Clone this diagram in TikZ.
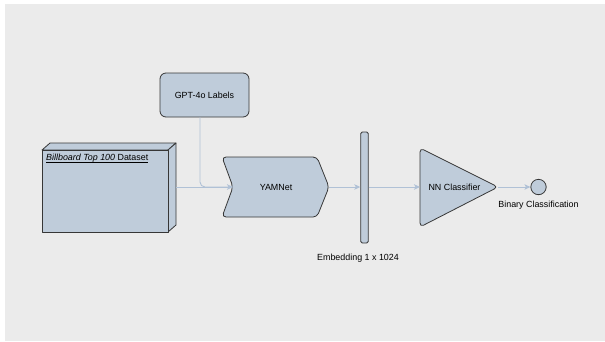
\documentclass[tikz,border=0pt]{standalone}
\usepackage{fontspec}
\setmainfont{Liberation Sans}
\usetikzlibrary{arrows.meta}
\definecolor{bgc}{HTML}{EBEBEB}
\definecolor{shfill}{HTML}{BFCCDA}
\definecolor{shdraw}{HTML}{363636}
\definecolor{connc}{HTML}{B0C1D6}
\begin{document}
\begin{tikzpicture}[x=1pt,y=-1pt,
  every node/.style={font=\fontsize{8.9}{10.5}\selectfont, text=black},
  shp/.style={draw=shdraw, fill=shfill, line width=0.8pt, line join=round},
  conn/.style={draw=connc, line width=0.9pt},
  tip/.style={-{Stealth[length=6pt,width=5.5pt,inset=1.5pt]}}]
\path[use as bounding box] (0,0) rectangle (605,341);
\fill[bgc] (5,4) rectangle (605,341);
% dataset cube
\path[shp] (42,150) -- (50,143) -- (176,143) -- (168,150) -- cycle;
\path[shp] (168,150) -- (176,143) -- (176,225) -- (168,232) -- cycle;
\node[shp, anchor=north west, minimum width=126pt, minimum height=82pt, inner sep=0pt] (data) at (42,150) {};
\node[anchor=base west, inner sep=0pt] (datatitle) at (46,160.5) {\textit{Billboard Top 100} Dataset};
\draw[black, line width=0.5pt] ([yshift=-1.3pt]datatitle.base west) -- ([yshift=-1.3pt]datatitle.base east);
\coordinate (dataR) at (176,187);
% GPT box
\node[shp, rounded corners=6pt, minimum width=89pt, minimum height=44pt] (gpt) at (204.5,95) {GPT-4o Labels};
% YAMNet
\path[shp, rounded corners=4pt] (222,157) -- (317,157) -- (329,187) -- (317,217) -- (222,217) -- (233,187) -- cycle;
\node (yam) at (276,187) {YAMNet};
\coordinate (yamin) at (233,187);
\coordinate (yamout) at (329,187);
% embedding
\node[shp, rounded corners=1.5pt, minimum width=7.6pt, minimum height=111pt, inner sep=0pt] (emb) at (364.5,187.5) {};
\node (emblabel) at (358,258) {Embedding 1 x 1024};
% classifier
\path[shp, rounded corners=4pt] (420,148) -- (498,187) -- (420,227) -- cycle;
\node (nn) at (454.5,187) {NN Classifier};
\coordinate (nnin) at (420,187);
\coordinate (nnout) at (498,187);
% output
\node[shp, circle, minimum size=15.4pt, inner sep=0pt] (out) at (538.5,187) {};
\node (outlabel) at (538.5,205.5) {Binary Classification};
% connectors
\draw[conn, rounded corners=5pt] ([xshift=-4.5pt]gpt.south) |- (yamin);
\draw[conn, tip] (dataR) -- (yamin);
\draw[conn, tip] (yamout) -- (emb.west |- yamout);
\draw[conn, tip] (emb.east |- nnin) -- (nnin);
\draw[conn, tip] (nnout) -- (out.west);
\end{tikzpicture}
\end{document}
